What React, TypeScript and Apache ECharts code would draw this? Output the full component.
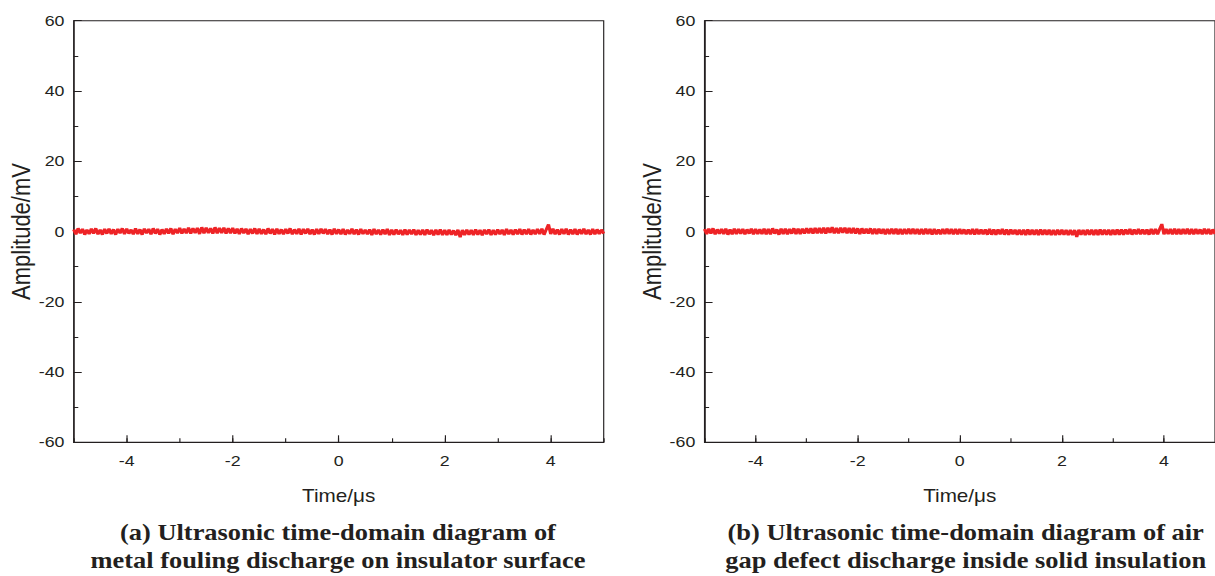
import React, { useEffect, useRef } from "react";
import * as echarts from "echarts";

// Sampled ultrasonic waveforms (mV), uniform sampling from -5 µs to 5 µs
const SAMPLE_START_US = -5;
const SAMPLE_STEP_US = 1 / 24;

const metalFoulingMv = [
  0.6, -0.8, 0.9, -0.5, 0.7, -0.9, 0.5, -0.7, 0.8, -0.6, 0.9, -0.8,
  0.5, -0.9, 0.7, -0.6, 0.8, -0.7, 0.6, -0.9, 0.7, -0.5, 0.9, -0.7,
  0.8, -0.6, 0.5, -0.8, 0.9, -0.7, 0.6, -0.9, 0.8, -0.5, 0.7, -0.8,
  0.9, -0.6, 0.7, -0.9, 0.6, -0.7, 0.8, -0.6, 0.9, -0.8, 0.7, -0.5,
  1.0, -0.6, 0.8, -0.5, 1.1, -0.6, 0.9, -0.4, 1.0, -0.7, 1.2, -0.5,
  1.1, -0.4, 0.9, -0.6, 1.2, -0.5, 1.0, -0.4, 1.1, -0.6, 0.9, -0.5,
  1.0, -0.6, 0.8, -0.7, 0.9, -0.5, 0.8, -0.8, 0.7, -0.6, 0.9, -0.7,
  0.8, -0.7, 0.6, -0.8, 0.9, -0.6, 0.7, -0.9, 0.8, -0.7, 0.6, -0.8,
  0.7, -0.6, 0.9, -0.8, 0.6, -0.7, 0.8, -0.9, 0.7, -0.6, 0.8, -0.8,
  0.6, -0.9, 0.7, -0.7, 0.8, -0.6, 0.7, -0.8, 0.6, -0.9, 0.8, -0.7,
  0.6, -0.8, 0.7, -0.9, 0.5, -0.7, 0.8, -0.8, 0.6, -0.9, 0.7, -0.7,
  0.5, -0.8, 0.6, -1.0, 0.7, -0.8, 0.5, -0.9, 0.6, -0.8, 0.7, -1.0,
  0.5, -0.9, 0.6, -0.8, 0.4, -1.0, 0.6, -0.9, 0.5, -0.8, 0.6, -1.0,
  0.4, -0.9, 0.5, -1.0, 0.6, -0.8, 0.4, -1.1, 0.5, -0.9, 0.6, -1.0,
  0.4, -1.0, 0.5, -0.9, 0.3, -1.1, 0.5, -1.6, 0.4, -1.0, 0.5, -0.9,
  0.4, -1.0, 0.6, -0.9, 0.4, -1.1, 0.5, -0.8, 0.6, -1.0, 0.4, -0.9,
  0.6, -0.8, 0.5, -1.0, 0.7, -0.8, 0.5, -0.9, 0.6, -0.8, 0.7, -0.9,
  0.6, -0.8, 0.7, -0.9, 0.5, -0.8, 0.7, -0.7, 0.8, -0.9, 0.6, 2.0,
  -0.7, 0.8, -0.8, 0.6, -0.9, 0.7, -0.7, 0.8, -0.9, 0.6, -0.8, 0.7,
  -0.9, 0.6, -0.7, 0.8, -0.8, 0.5, -0.9, 0.7, -0.8, 0.6, -0.7, 0.5, -0.6,
];

const airGapMv = [
  0.7, -0.7, 0.8, -0.6, 0.9, -0.8, 0.6, -0.6, 0.7, -0.7, 0.8, -0.9,
  0.6, -0.8, 0.8, -0.7, 0.7, -0.6, 0.7, -0.8, 0.6, -0.6, 0.8, -0.8,
  0.7, -0.7, 0.6, -0.7, 0.8, -0.8, 0.7, -0.8, 0.9, -0.6, 0.6, -0.9,
  0.8, -0.7, 0.8, -0.8, 0.7, -0.6, 0.9, -0.7, 0.8, -0.7, 0.8, -0.6,
  0.9, -0.5, 0.9, -0.6, 1.0, -0.5, 1.0, -0.5, 1.1, -0.6, 1.1, -0.4,
  1.2, -0.5, 1.0, -0.5, 1.1, -0.4, 1.1, -0.5, 1.0, -0.5, 1.0, -0.6,
  0.9, -0.7, 0.9, -0.6, 0.8, -0.6, 0.9, -0.7, 0.8, -0.7, 0.8, -0.6,
  0.7, -0.8, 0.7, -0.7, 0.8, -0.7, 0.8, -0.8, 0.7, -0.8, 0.7, -0.7,
  0.8, -0.7, 0.8, -0.7, 0.7, -0.8, 0.7, -0.8, 0.8, -0.7, 0.7, -0.9,
  0.7, -0.8, 0.6, -0.8, 0.7, -0.7, 0.8, -0.7, 0.7, -0.8, 0.7, -0.8,
  0.7, -0.7, 0.6, -0.8, 0.6, -0.8, 0.7, -0.9, 0.7, -0.8, 0.6, -0.8,
  0.6, -0.9, 0.7, -0.9, 0.6, -0.9, 0.6, -0.8, 0.7, -0.9, 0.6, -0.9,
  0.6, -0.8, 0.5, -0.9, 0.5, -0.9, 0.5, -1.0, 0.6, -0.9, 0.5, -0.9,
  0.5, -1.0, 0.6, -0.9, 0.5, -0.9, 0.5, -1.0, 0.4, -1.0, 0.5, -0.9,
  0.5, -0.9, 0.4, -1.0, 0.4, -1.0, 0.4, -1.5, 0.5, -0.9, 0.4, -1.0,
  0.5, -0.9, 0.5, -1.0, 0.5, -1.0, 0.6, -0.9, 0.5, -0.9, 0.5, -1.0,
  0.5, -0.9, 0.6, -0.9, 0.6, -0.9, 0.6, -0.8, 0.7, -0.9, 0.6, -0.8,
  0.7, -0.8, 0.6, -0.8, 0.6, -0.9, 0.7, -0.8, 0.7, -0.8, 0.7, 2.1,
  -0.8, 0.7, -0.7, 0.7, -0.8, 0.8, -0.8, 0.7, -0.8, 0.7, -0.7, 0.8,
  -0.8, 0.7, -0.8, 0.7, -0.7, 0.6, -0.8, 0.8, -0.7, 0.7, -0.8, 0.6, -0.7,
];

const xMajorTicks = [-4, -2, 0, 2, 4];
const captionA = ["(a) Ultrasonic time-domain diagram of", "metal fouling discharge on insulator surface"];
const captionB = ["(b) Ultrasonic time-domain diagram of air", "gap defect discharge inside solid insulation"];

// The figure is laid out in a narrower frame and widened horizontally
const FRAME_W = 1057;
const FRAME_H = 576;
const STRETCH = 1215 / FRAME_W;

const SANS = "Liberation Sans, Arial, Helvetica, sans-serif";
const SERIF = "Liberation Serif, Times New Roman, serif";
const INK = "#231f20";
const TRACE = "#ee2326";

const toPairs = (vals: number[]) =>
  vals.map((v, i) => [SAMPLE_START_US + i * SAMPLE_STEP_US, v]);

const panels = [
  { left: 64.1, width: 461.1, data: metalFoulingMv, caption: captionA, cx: 294 },
  { left: 612.9, width: 454.1, data: airGapMv, caption: captionB, cx: 840.1 },
];

export default function App() {
  const ref = useRef<HTMLDivElement>(null);

  useEffect(() => {
    if (!ref.current) return;
    const chart = echarts.init(ref.current, undefined, { renderer: "svg" });

    const grid: any[] = [];
    const xAxis: any[] = [];
    const yAxis: any[] = [];
    const series: any[] = [];
    const graphic: any[] = [];

    panels.forEach((p, gi) => {
      grid.push({
        left: p.left,
        top: 20.7,
        width: p.width,
        height: 421.6,
        show: true,
        borderColor: INK,
        borderWidth: 1,
        backgroundColor: "transparent",
      });
      // main time axis: labels and long ticks
      xAxis.push({
        type: "value",
        gridIndex: gi,
        position: "bottom",
        min: -5,
        max: 5,
        name: "Time/\u03bcs",
        nameLocation: "middle",
        nameGap: 44,
        nameTextStyle: { fontFamily: SANS, fontSize: 18, color: INK },
        axisLine: { show: true, onZero: false, lineStyle: { color: INK, width: 1 } },
        axisTick: { show: true, inside: true, length: 7, customValues: xMajorTicks, lineStyle: { color: INK } },
        axisLabel: { show: true, margin: 11, customValues: xMajorTicks, fontFamily: SANS, fontSize: 15.5, color: INK },
        splitLine: { show: false },
      });
      // companion axis carrying the short ticks at every microsecond
      xAxis.push({
        type: "value",
        gridIndex: gi,
        position: "bottom",
        min: -5,
        max: 5,
        interval: 1,
        axisLine: { show: false, onZero: false },
        axisTick: { show: true, inside: true, length: 4, lineStyle: { color: INK } },
        axisLabel: { show: false },
        splitLine: { show: false },
      });
      yAxis.push({
        type: "value",
        gridIndex: gi,
        position: "left",
        min: -60,
        max: 60,
        interval: 20,
        name: "Amplitude/mV",
        nameLocation: "middle",
        nameGap: 33,
        nameTextStyle: { fontFamily: SANS, fontSize: 22, color: INK },
        axisLine: { show: true, onZero: false, lineStyle: { color: INK, width: 1 } },
        axisTick: { show: true, inside: true, length: 7, lineStyle: { color: INK } },
        minorTick: { show: true, splitNumber: 2, length: 4, lineStyle: { color: INK } },
        axisLabel: { margin: 8, fontFamily: SANS, fontSize: 15.5, color: INK },
        splitLine: { show: false },
        minorSplitLine: { show: false },
      });
      series.push({
        type: "line",
        xAxisIndex: gi * 2,
        yAxisIndex: gi,
        data: toPairs(p.data),
        showSymbol: false,
        symbol: "none",
        lineStyle: { color: TRACE, width: 2.8 },
        clip: true,
      });
      p.caption.forEach((line, li) => {
        graphic.push({
          type: "text",
          x: p.cx,
          y: 532 + li * 28,
          style: {
            text: line,
            fontFamily: SERIF,
            fontWeight: "bold",
            fontSize: 23,
            fill: INK,
            textAlign: "center",
            textVerticalAlign: "middle",
          },
        });
      });
    });

    chart.setOption({
      animation: false,
      backgroundColor: "#ffffff",
      grid,
      xAxis,
      yAxis,
      series,
      graphic,
    });

    return () => chart.dispose();
  }, []);

  return (
    <div
      style={{
        position: "fixed",
        left: 0,
        top: 0,
        width: 1215,
        height: 576,
        overflow: "hidden",
        background: "#fff",
      }}
    >
      <div
        ref={ref}
        style={{
          width: FRAME_W,
          height: FRAME_H,
          transform: `scaleX(${STRETCH})`,
          transformOrigin: "0 0",
        }}
      />
    </div>
  );
}
